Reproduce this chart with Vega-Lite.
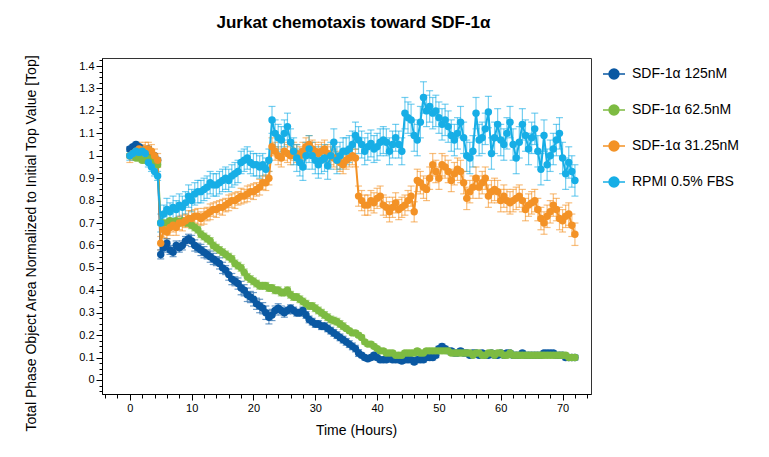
{
"$schema":"https://vega.github.io/schema/vega-lite/v6.json",
"width":489,"height":336,
"autosize":"none",
"padding":{"left":102,"top":58,"right":178,"bottom":63},
"background":"white",
"view":{"stroke":"#333333","strokeWidth":1},
"title":{"text":"Jurkat chemotaxis toward SDF-1α","font":"Liberation Sans","fontSize":17,"fontWeight":"bold","color":"black","anchor":"middle","dx":7,"offset":22},
"data":{"values":[
{"s":"125nM","t":0,"v":1.03,"e":0.01},{"s":"125nM","t":0.5,"v":1.04,"e":0.01},{"s":"125nM","t":1,"v":1.05,"e":0.01},{"s":"125nM","t":1.5,"v":1.04,"e":0.01},{"s":"125nM","t":2,"v":1.03,"e":0.01},{"s":"125nM","t":2.5,"v":1.02,"e":0.01},{"s":"125nM","t":3,"v":1.03,"e":0.01},{"s":"125nM","t":3.5,"v":1.01,"e":0.01},{"s":"125nM","t":4,"v":1.0,"e":0.01},{"s":"125nM","t":4.5,"v":0.98,"e":0.01},
{"s":"125nM","t":5,"v":0.56,"e":0.02},{"s":"125nM","t":5.5,"v":0.59,"e":0.02},{"s":"125nM","t":6,"v":0.61,"e":0.02},{"s":"125nM","t":6.5,"v":0.58,"e":0.02},{"s":"125nM","t":7,"v":0.57,"e":0.02},{"s":"125nM","t":7.5,"v":0.6,"e":0.02},{"s":"125nM","t":8,"v":0.59,"e":0.02},{"s":"125nM","t":8.5,"v":0.6,"e":0.02},{"s":"125nM","t":9,"v":0.62,"e":0.02},{"s":"125nM","t":9.5,"v":0.63,"e":0.02},
{"s":"125nM","t":10,"v":0.62,"e":0.025},{"s":"125nM","t":10.5,"v":0.6,"e":0.025},{"s":"125nM","t":11,"v":0.59,"e":0.02},{"s":"125nM","t":11.5,"v":0.58,"e":0.025},{"s":"125nM","t":12,"v":0.57,"e":0.025},{"s":"125nM","t":12.5,"v":0.56,"e":0.02},{"s":"125nM","t":13,"v":0.55,"e":0.025},{"s":"125nM","t":13.5,"v":0.54,"e":0.025},{"s":"125nM","t":14,"v":0.53,"e":0.02},{"s":"125nM","t":14.5,"v":0.52,"e":0.025},
{"s":"125nM","t":15,"v":0.5,"e":0.025},{"s":"125nM","t":15.5,"v":0.49,"e":0.02},{"s":"125nM","t":16,"v":0.47,"e":0.025},{"s":"125nM","t":16.5,"v":0.45,"e":0.025},{"s":"125nM","t":17,"v":0.44,"e":0.02},{"s":"125nM","t":17.5,"v":0.43,"e":0.025},{"s":"125nM","t":18,"v":0.41,"e":0.03},{"s":"125nM","t":18.5,"v":0.4,"e":0.025},{"s":"125nM","t":19,"v":0.38,"e":0.03},{"s":"125nM","t":19.5,"v":0.37,"e":0.025},
{"s":"125nM","t":20,"v":0.36,"e":0.03},{"s":"125nM","t":20.5,"v":0.34,"e":0.025},{"s":"125nM","t":21,"v":0.33,"e":0.03},{"s":"125nM","t":21.5,"v":0.32,"e":0.025},{"s":"125nM","t":22,"v":0.3,"e":0.03},{"s":"125nM","t":22.5,"v":0.28,"e":0.03},{"s":"125nM","t":23,"v":0.29,"e":0.025},{"s":"125nM","t":23.5,"v":0.31,"e":0.02},{"s":"125nM","t":24,"v":0.32,"e":0.02},{"s":"125nM","t":24.5,"v":0.31,"e":0.02},
{"s":"125nM","t":25,"v":0.3,"e":0.02},{"s":"125nM","t":25.5,"v":0.31,"e":0.015},{"s":"125nM","t":26,"v":0.32,"e":0.015},{"s":"125nM","t":26.5,"v":0.31,"e":0.015},{"s":"125nM","t":27,"v":0.3,"e":0.015},{"s":"125nM","t":27.5,"v":0.3,"e":0.015},{"s":"125nM","t":28,"v":0.31,"e":0.015},{"s":"125nM","t":28.5,"v":0.29,"e":0.015},{"s":"125nM","t":29,"v":0.27,"e":0.015},{"s":"125nM","t":29.5,"v":0.26,"e":0.015},
{"s":"125nM","t":30,"v":0.25,"e":0.015},{"s":"125nM","t":30.5,"v":0.25,"e":0.015},{"s":"125nM","t":31,"v":0.24,"e":0.015},{"s":"125nM","t":31.5,"v":0.24,"e":0.015},{"s":"125nM","t":32,"v":0.23,"e":0.015},{"s":"125nM","t":32.5,"v":0.22,"e":0.015},{"s":"125nM","t":33,"v":0.21,"e":0.015},{"s":"125nM","t":33.5,"v":0.2,"e":0.015},{"s":"125nM","t":34,"v":0.19,"e":0.015},{"s":"125nM","t":34.5,"v":0.18,"e":0.015},
{"s":"125nM","t":35,"v":0.17,"e":0.015},{"s":"125nM","t":35.5,"v":0.16,"e":0.015},{"s":"125nM","t":36,"v":0.15,"e":0.015},{"s":"125nM","t":36.5,"v":0.14,"e":0.015},{"s":"125nM","t":37,"v":0.12,"e":0.015},{"s":"125nM","t":37.5,"v":0.11,"e":0.01},{"s":"125nM","t":38,"v":0.1,"e":0.01},{"s":"125nM","t":38.5,"v":0.095,"e":0.01},{"s":"125nM","t":39,"v":0.1,"e":0.01},{"s":"125nM","t":39.5,"v":0.11,"e":0.01},
{"s":"125nM","t":40,"v":0.1,"e":0.01},{"s":"125nM","t":40.5,"v":0.09,"e":0.01},{"s":"125nM","t":41,"v":0.09,"e":0.01},{"s":"125nM","t":41.5,"v":0.09,"e":0.01},{"s":"125nM","t":42,"v":0.1,"e":0.01},{"s":"125nM","t":42.5,"v":0.09,"e":0.01},{"s":"125nM","t":43,"v":0.09,"e":0.01},{"s":"125nM","t":43.5,"v":0.09,"e":0.01},{"s":"125nM","t":44,"v":0.085,"e":0.01},{"s":"125nM","t":44.5,"v":0.09,"e":0.01},
{"s":"125nM","t":45,"v":0.09,"e":0.01},{"s":"125nM","t":45.5,"v":0.09,"e":0.01},{"s":"125nM","t":46,"v":0.08,"e":0.01},{"s":"125nM","t":46.5,"v":0.09,"e":0.01},{"s":"125nM","t":47,"v":0.09,"e":0.01},{"s":"125nM","t":47.5,"v":0.09,"e":0.01},{"s":"125nM","t":48,"v":0.1,"e":0.01},{"s":"125nM","t":48.5,"v":0.1,"e":0.01},{"s":"125nM","t":49,"v":0.1,"e":0.01},{"s":"125nM","t":49.5,"v":0.11,"e":0.01},
{"s":"125nM","t":50,"v":0.14,"e":0.01},{"s":"125nM","t":50.5,"v":0.15,"e":0.01},{"s":"125nM","t":51,"v":0.14,"e":0.01},{"s":"125nM","t":51.5,"v":0.13,"e":0.01},{"s":"125nM","t":52,"v":0.13,"e":0.01},{"s":"125nM","t":52.5,"v":0.12,"e":0.01},{"s":"125nM","t":53,"v":0.12,"e":0.01},{"s":"125nM","t":53.5,"v":0.13,"e":0.01},{"s":"125nM","t":54,"v":0.12,"e":0.01},{"s":"125nM","t":54.5,"v":0.12,"e":0.01},
{"s":"125nM","t":55,"v":0.11,"e":0.01},{"s":"125nM","t":55.5,"v":0.12,"e":0.01},{"s":"125nM","t":56,"v":0.12,"e":0.01},{"s":"125nM","t":56.5,"v":0.11,"e":0.01},{"s":"125nM","t":57,"v":0.12,"e":0.01},{"s":"125nM","t":57.5,"v":0.11,"e":0.01},{"s":"125nM","t":58,"v":0.11,"e":0.01},{"s":"125nM","t":58.5,"v":0.12,"e":0.01},{"s":"125nM","t":59,"v":0.11,"e":0.01},{"s":"125nM","t":59.5,"v":0.11,"e":0.01},
{"s":"125nM","t":60,"v":0.12,"e":0.01},{"s":"125nM","t":60.5,"v":0.11,"e":0.01},{"s":"125nM","t":61,"v":0.12,"e":0.01},{"s":"125nM","t":61.5,"v":0.12,"e":0.01},{"s":"125nM","t":62,"v":0.11,"e":0.01},{"s":"125nM","t":62.5,"v":0.11,"e":0.01},{"s":"125nM","t":63,"v":0.11,"e":0.01},{"s":"125nM","t":63.5,"v":0.12,"e":0.01},{"s":"125nM","t":64,"v":0.11,"e":0.01},{"s":"125nM","t":64.5,"v":0.11,"e":0.01},
{"s":"125nM","t":65,"v":0.11,"e":0.01},{"s":"125nM","t":65.5,"v":0.11,"e":0.01},{"s":"125nM","t":66,"v":0.11,"e":0.01},{"s":"125nM","t":66.5,"v":0.11,"e":0.01},{"s":"125nM","t":67,"v":0.12,"e":0.01},{"s":"125nM","t":67.5,"v":0.12,"e":0.01},{"s":"125nM","t":68,"v":0.12,"e":0.01},{"s":"125nM","t":68.5,"v":0.12,"e":0.01},{"s":"125nM","t":69,"v":0.11,"e":0.01},{"s":"125nM","t":69.5,"v":0.11,"e":0.01},
{"s":"125nM","t":70,"v":0.11,"e":0.01},{"s":"125nM","t":70.5,"v":0.1,"e":0.01},{"s":"125nM","t":71,"v":0.1,"e":0.01},{"s":"125nM","t":71.5,"v":0.1,"e":0.01},{"s":"125nM","t":72,"v":0.1,"e":0.01},

{"s":"62.5nM","t":0,"v":1.0,"e":0.01},{"s":"62.5nM","t":0.5,"v":1.0,"e":0.01},{"s":"62.5nM","t":1,"v":0.99,"e":0.01},{"s":"62.5nM","t":1.5,"v":0.99,"e":0.01},{"s":"62.5nM","t":2,"v":0.98,"e":0.01},{"s":"62.5nM","t":2.5,"v":0.98,"e":0.01},{"s":"62.5nM","t":3,"v":0.99,"e":0.01},{"s":"62.5nM","t":3.5,"v":0.98,"e":0.01},{"s":"62.5nM","t":4,"v":0.97,"e":0.01},{"s":"62.5nM","t":4.5,"v":0.96,"e":0.01},
{"s":"62.5nM","t":5,"v":0.7,"e":0.01},{"s":"62.5nM","t":5.5,"v":0.7,"e":0.01},{"s":"62.5nM","t":6,"v":0.7,"e":0.01},{"s":"62.5nM","t":6.5,"v":0.71,"e":0.01},{"s":"62.5nM","t":7,"v":0.7,"e":0.01},{"s":"62.5nM","t":7.5,"v":0.71,"e":0.01},{"s":"62.5nM","t":8,"v":0.7,"e":0.01},{"s":"62.5nM","t":8.5,"v":0.71,"e":0.01},{"s":"62.5nM","t":9,"v":0.7,"e":0.01},{"s":"62.5nM","t":9.5,"v":0.7,"e":0.01},
{"s":"62.5nM","t":10,"v":0.69,"e":0.015},{"s":"62.5nM","t":10.5,"v":0.68,"e":0.015},{"s":"62.5nM","t":11,"v":0.67,"e":0.015},{"s":"62.5nM","t":11.5,"v":0.65,"e":0.015},{"s":"62.5nM","t":12,"v":0.64,"e":0.015},{"s":"62.5nM","t":12.5,"v":0.63,"e":0.015},{"s":"62.5nM","t":13,"v":0.62,"e":0.015},{"s":"62.5nM","t":13.5,"v":0.6,"e":0.015},{"s":"62.5nM","t":14,"v":0.59,"e":0.015},{"s":"62.5nM","t":14.5,"v":0.58,"e":0.015},
{"s":"62.5nM","t":15,"v":0.57,"e":0.015},{"s":"62.5nM","t":15.5,"v":0.56,"e":0.015},{"s":"62.5nM","t":16,"v":0.55,"e":0.015},{"s":"62.5nM","t":16.5,"v":0.54,"e":0.015},{"s":"62.5nM","t":17,"v":0.52,"e":0.015},{"s":"62.5nM","t":17.5,"v":0.51,"e":0.015},{"s":"62.5nM","t":18,"v":0.5,"e":0.015},{"s":"62.5nM","t":18.5,"v":0.48,"e":0.015},{"s":"62.5nM","t":19,"v":0.46,"e":0.015},{"s":"62.5nM","t":19.5,"v":0.45,"e":0.015},
{"s":"62.5nM","t":20,"v":0.44,"e":0.015},{"s":"62.5nM","t":20.5,"v":0.43,"e":0.015},{"s":"62.5nM","t":21,"v":0.42,"e":0.015},{"s":"62.5nM","t":21.5,"v":0.42,"e":0.015},{"s":"62.5nM","t":22,"v":0.42,"e":0.015},{"s":"62.5nM","t":22.5,"v":0.41,"e":0.015},{"s":"62.5nM","t":23,"v":0.41,"e":0.015},{"s":"62.5nM","t":23.5,"v":0.4,"e":0.015},{"s":"62.5nM","t":24,"v":0.4,"e":0.015},{"s":"62.5nM","t":24.5,"v":0.39,"e":0.015},
{"s":"62.5nM","t":25,"v":0.39,"e":0.015},{"s":"62.5nM","t":25.5,"v":0.4,"e":0.015},{"s":"62.5nM","t":26,"v":0.38,"e":0.015},{"s":"62.5nM","t":26.5,"v":0.37,"e":0.015},{"s":"62.5nM","t":27,"v":0.37,"e":0.015},{"s":"62.5nM","t":27.5,"v":0.36,"e":0.015},{"s":"62.5nM","t":28,"v":0.35,"e":0.015},{"s":"62.5nM","t":28.5,"v":0.34,"e":0.015},{"s":"62.5nM","t":29,"v":0.33,"e":0.015},{"s":"62.5nM","t":29.5,"v":0.33,"e":0.015},
{"s":"62.5nM","t":30,"v":0.32,"e":0.015},{"s":"62.5nM","t":30.5,"v":0.31,"e":0.015},{"s":"62.5nM","t":31,"v":0.3,"e":0.015},{"s":"62.5nM","t":31.5,"v":0.29,"e":0.015},{"s":"62.5nM","t":32,"v":0.28,"e":0.015},{"s":"62.5nM","t":32.5,"v":0.27,"e":0.015},{"s":"62.5nM","t":33,"v":0.265,"e":0.015},{"s":"62.5nM","t":33.5,"v":0.26,"e":0.015},{"s":"62.5nM","t":34,"v":0.25,"e":0.015},{"s":"62.5nM","t":34.5,"v":0.24,"e":0.015},
{"s":"62.5nM","t":35,"v":0.23,"e":0.01},{"s":"62.5nM","t":35.5,"v":0.22,"e":0.01},{"s":"62.5nM","t":36,"v":0.21,"e":0.01},{"s":"62.5nM","t":36.5,"v":0.21,"e":0.01},{"s":"62.5nM","t":37,"v":0.2,"e":0.01},{"s":"62.5nM","t":37.5,"v":0.19,"e":0.01},{"s":"62.5nM","t":38,"v":0.17,"e":0.01},{"s":"62.5nM","t":38.5,"v":0.16,"e":0.01},{"s":"62.5nM","t":39,"v":0.16,"e":0.01},{"s":"62.5nM","t":39.5,"v":0.15,"e":0.01},
{"s":"62.5nM","t":40,"v":0.14,"e":0.01},{"s":"62.5nM","t":40.5,"v":0.13,"e":0.01},{"s":"62.5nM","t":41,"v":0.13,"e":0.01},{"s":"62.5nM","t":41.5,"v":0.12,"e":0.01},{"s":"62.5nM","t":42,"v":0.12,"e":0.01},{"s":"62.5nM","t":42.5,"v":0.12,"e":0.01},{"s":"62.5nM","t":43,"v":0.11,"e":0.01},{"s":"62.5nM","t":43.5,"v":0.11,"e":0.01},{"s":"62.5nM","t":44,"v":0.11,"e":0.01},{"s":"62.5nM","t":44.5,"v":0.12,"e":0.01},
{"s":"62.5nM","t":45,"v":0.12,"e":0.01},{"s":"62.5nM","t":45.5,"v":0.12,"e":0.01},{"s":"62.5nM","t":46,"v":0.12,"e":0.01},{"s":"62.5nM","t":46.5,"v":0.13,"e":0.01},{"s":"62.5nM","t":47,"v":0.12,"e":0.01},{"s":"62.5nM","t":47.5,"v":0.12,"e":0.01},{"s":"62.5nM","t":48,"v":0.13,"e":0.01},{"s":"62.5nM","t":48.5,"v":0.13,"e":0.01},{"s":"62.5nM","t":49,"v":0.13,"e":0.01},{"s":"62.5nM","t":49.5,"v":0.13,"e":0.01},
{"s":"62.5nM","t":50,"v":0.13,"e":0.01},{"s":"62.5nM","t":50.5,"v":0.13,"e":0.01},{"s":"62.5nM","t":51,"v":0.13,"e":0.01},{"s":"62.5nM","t":51.5,"v":0.13,"e":0.01},{"s":"62.5nM","t":52,"v":0.12,"e":0.01},{"s":"62.5nM","t":52.5,"v":0.12,"e":0.01},{"s":"62.5nM","t":53,"v":0.12,"e":0.01},{"s":"62.5nM","t":53.5,"v":0.12,"e":0.01},{"s":"62.5nM","t":54,"v":0.12,"e":0.01},{"s":"62.5nM","t":54.5,"v":0.12,"e":0.01},
{"s":"62.5nM","t":55,"v":0.12,"e":0.01},{"s":"62.5nM","t":55.5,"v":0.11,"e":0.01},{"s":"62.5nM","t":56,"v":0.12,"e":0.01},{"s":"62.5nM","t":56.5,"v":0.12,"e":0.01},{"s":"62.5nM","t":57,"v":0.11,"e":0.01},{"s":"62.5nM","t":57.5,"v":0.11,"e":0.01},{"s":"62.5nM","t":58,"v":0.12,"e":0.01},{"s":"62.5nM","t":58.5,"v":0.12,"e":0.01},{"s":"62.5nM","t":59,"v":0.11,"e":0.01},{"s":"62.5nM","t":59.5,"v":0.12,"e":0.01},
{"s":"62.5nM","t":60,"v":0.12,"e":0.01},{"s":"62.5nM","t":60.5,"v":0.11,"e":0.01},{"s":"62.5nM","t":61,"v":0.11,"e":0.01},{"s":"62.5nM","t":61.5,"v":0.12,"e":0.01},{"s":"62.5nM","t":62,"v":0.11,"e":0.01},{"s":"62.5nM","t":62.5,"v":0.11,"e":0.01},{"s":"62.5nM","t":63,"v":0.11,"e":0.01},{"s":"62.5nM","t":63.5,"v":0.11,"e":0.01},{"s":"62.5nM","t":64,"v":0.11,"e":0.01},{"s":"62.5nM","t":64.5,"v":0.11,"e":0.01},
{"s":"62.5nM","t":65,"v":0.11,"e":0.01},{"s":"62.5nM","t":65.5,"v":0.11,"e":0.01},{"s":"62.5nM","t":66,"v":0.11,"e":0.01},{"s":"62.5nM","t":66.5,"v":0.11,"e":0.01},{"s":"62.5nM","t":67,"v":0.11,"e":0.01},{"s":"62.5nM","t":67.5,"v":0.11,"e":0.01},{"s":"62.5nM","t":68,"v":0.11,"e":0.01},{"s":"62.5nM","t":68.5,"v":0.11,"e":0.01},{"s":"62.5nM","t":69,"v":0.11,"e":0.01},{"s":"62.5nM","t":69.5,"v":0.11,"e":0.01},
{"s":"62.5nM","t":70,"v":0.11,"e":0.01},{"s":"62.5nM","t":70.5,"v":0.11,"e":0.01},{"s":"62.5nM","t":71,"v":0.1,"e":0.01},{"s":"62.5nM","t":71.5,"v":0.1,"e":0.01},{"s":"62.5nM","t":72,"v":0.1,"e":0.01},

{"s":"31.25nM","t":0,"v":1.0,"e":0.03},{"s":"31.25nM","t":0.5,"v":1.01,"e":0.03},{"s":"31.25nM","t":1,"v":1.02,"e":0.03},{"s":"31.25nM","t":1.5,"v":1.03,"e":0.03},{"s":"31.25nM","t":2,"v":1.02,"e":0.03},{"s":"31.25nM","t":2.5,"v":1.03,"e":0.03},{"s":"31.25nM","t":3,"v":1.03,"e":0.03},{"s":"31.25nM","t":3.5,"v":1.02,"e":0.03},{"s":"31.25nM","t":4,"v":1.0,"e":0.03},{"s":"31.25nM","t":4.5,"v":0.98,"e":0.03},
{"s":"31.25nM","t":5,"v":0.61,"e":0.03},{"s":"31.25nM","t":5.5,"v":0.67,"e":0.035},{"s":"31.25nM","t":6,"v":0.66,"e":0.03},{"s":"31.25nM","t":6.5,"v":0.68,"e":0.035},{"s":"31.25nM","t":7,"v":0.69,"e":0.03},{"s":"31.25nM","t":7.5,"v":0.68,"e":0.035},{"s":"31.25nM","t":8,"v":0.7,"e":0.03},{"s":"31.25nM","t":8.5,"v":0.7,"e":0.035},{"s":"31.25nM","t":9,"v":0.71,"e":0.03},{"s":"31.25nM","t":9.5,"v":0.72,"e":0.035},
{"s":"31.25nM","t":10,"v":0.72,"e":0.035},{"s":"31.25nM","t":10.5,"v":0.73,"e":0.03},{"s":"31.25nM","t":11,"v":0.73,"e":0.035},{"s":"31.25nM","t":11.5,"v":0.72,"e":0.03},{"s":"31.25nM","t":12,"v":0.73,"e":0.035},{"s":"31.25nM","t":12.5,"v":0.74,"e":0.03},{"s":"31.25nM","t":13,"v":0.75,"e":0.035},{"s":"31.25nM","t":13.5,"v":0.76,"e":0.03},{"s":"31.25nM","t":14,"v":0.76,"e":0.035},{"s":"31.25nM","t":14.5,"v":0.77,"e":0.03},
{"s":"31.25nM","t":15,"v":0.77,"e":0.035},{"s":"31.25nM","t":15.5,"v":0.78,"e":0.03},{"s":"31.25nM","t":16,"v":0.79,"e":0.035},{"s":"31.25nM","t":16.5,"v":0.8,"e":0.03},{"s":"31.25nM","t":17,"v":0.8,"e":0.035},{"s":"31.25nM","t":17.5,"v":0.81,"e":0.03},{"s":"31.25nM","t":18,"v":0.82,"e":0.035},{"s":"31.25nM","t":18.5,"v":0.82,"e":0.03},{"s":"31.25nM","t":19,"v":0.83,"e":0.035},{"s":"31.25nM","t":19.5,"v":0.84,"e":0.03},
{"s":"31.25nM","t":20,"v":0.84,"e":0.035},{"s":"31.25nM","t":20.5,"v":0.85,"e":0.03},{"s":"31.25nM","t":21,"v":0.86,"e":0.035},{"s":"31.25nM","t":21.5,"v":0.88,"e":0.03},{"s":"31.25nM","t":22,"v":0.88,"e":0.035},{"s":"31.25nM","t":22.5,"v":0.9,"e":0.03},{"s":"31.25nM","t":23,"v":1.04,"e":0.04},{"s":"31.25nM","t":23.5,"v":1.02,"e":0.04},{"s":"31.25nM","t":24,"v":1.0,"e":0.04},{"s":"31.25nM","t":24.5,"v":0.99,"e":0.04},
{"s":"31.25nM","t":25,"v":1.02,"e":0.04},{"s":"31.25nM","t":25.5,"v":1.01,"e":0.04},{"s":"31.25nM","t":26,"v":1.0,"e":0.04},{"s":"31.25nM","t":26.5,"v":1.02,"e":0.04},{"s":"31.25nM","t":27,"v":1.01,"e":0.04},{"s":"31.25nM","t":27.5,"v":1.0,"e":0.04},{"s":"31.25nM","t":28,"v":1.02,"e":0.04},{"s":"31.25nM","t":28.5,"v":1.04,"e":0.04},{"s":"31.25nM","t":29,"v":1.05,"e":0.04},{"s":"31.25nM","t":29.5,"v":1.03,"e":0.04},
{"s":"31.25nM","t":30,"v":1.02,"e":0.04},{"s":"31.25nM","t":30.5,"v":1.01,"e":0.04},{"s":"31.25nM","t":31,"v":1.02,"e":0.04},{"s":"31.25nM","t":31.5,"v":1.03,"e":0.04},{"s":"31.25nM","t":32,"v":1.01,"e":0.04},{"s":"31.25nM","t":32.5,"v":1.0,"e":0.04},{"s":"31.25nM","t":33,"v":0.99,"e":0.04},{"s":"31.25nM","t":33.5,"v":0.98,"e":0.04},{"s":"31.25nM","t":34,"v":0.97,"e":0.04},{"s":"31.25nM","t":34.5,"v":0.96,"e":0.04},
{"s":"31.25nM","t":35,"v":0.98,"e":0.04},{"s":"31.25nM","t":35.5,"v":0.99,"e":0.04},{"s":"31.25nM","t":36,"v":1.0,"e":0.04},{"s":"31.25nM","t":36.5,"v":0.99,"e":0.04},{"s":"31.25nM","t":37,"v":0.82,"e":0.045},{"s":"31.25nM","t":37.5,"v":0.8,"e":0.045},{"s":"31.25nM","t":38,"v":0.78,"e":0.045},{"s":"31.25nM","t":38.5,"v":0.78,"e":0.045},{"s":"31.25nM","t":39,"v":0.8,"e":0.045},{"s":"31.25nM","t":39.5,"v":0.79,"e":0.045},
{"s":"31.25nM","t":40,"v":0.81,"e":0.045},{"s":"31.25nM","t":40.5,"v":0.82,"e":0.045},{"s":"31.25nM","t":41,"v":0.78,"e":0.045},{"s":"31.25nM","t":41.5,"v":0.77,"e":0.045},{"s":"31.25nM","t":42,"v":0.75,"e":0.045},{"s":"31.25nM","t":42.5,"v":0.77,"e":0.045},{"s":"31.25nM","t":43,"v":0.79,"e":0.045},{"s":"31.25nM","t":43.5,"v":0.76,"e":0.045},{"s":"31.25nM","t":44,"v":0.77,"e":0.045},{"s":"31.25nM","t":44.5,"v":0.78,"e":0.045},
{"s":"31.25nM","t":45,"v":0.8,"e":0.045},{"s":"31.25nM","t":45.5,"v":0.82,"e":0.045},{"s":"31.25nM","t":46,"v":0.75,"e":0.045},{"s":"31.25nM","t":46.5,"v":0.89,"e":0.05},{"s":"31.25nM","t":47,"v":0.88,"e":0.05},{"s":"31.25nM","t":47.5,"v":0.86,"e":0.05},{"s":"31.25nM","t":48,"v":0.85,"e":0.05},{"s":"31.25nM","t":48.5,"v":0.9,"e":0.05},{"s":"31.25nM","t":49,"v":0.96,"e":0.05},{"s":"31.25nM","t":49.5,"v":0.93,"e":0.05},
{"s":"31.25nM","t":50,"v":0.9,"e":0.05},{"s":"31.25nM","t":50.5,"v":0.96,"e":0.05},{"s":"31.25nM","t":51,"v":0.95,"e":0.05},{"s":"31.25nM","t":51.5,"v":0.93,"e":0.05},{"s":"31.25nM","t":52,"v":0.89,"e":0.05},{"s":"31.25nM","t":52.5,"v":0.92,"e":0.05},{"s":"31.25nM","t":53,"v":0.94,"e":0.05},{"s":"31.25nM","t":53.5,"v":0.93,"e":0.05},{"s":"31.25nM","t":54,"v":0.88,"e":0.05},{"s":"31.25nM","t":54.5,"v":0.81,"e":0.05},
{"s":"31.25nM","t":55,"v":0.84,"e":0.05},{"s":"31.25nM","t":55.5,"v":0.86,"e":0.05},{"s":"31.25nM","t":56,"v":0.9,"e":0.05},{"s":"31.25nM","t":56.5,"v":0.86,"e":0.05},{"s":"31.25nM","t":57,"v":0.88,"e":0.05},{"s":"31.25nM","t":57.5,"v":0.9,"e":0.05},{"s":"31.25nM","t":58,"v":0.82,"e":0.05},{"s":"31.25nM","t":58.5,"v":0.84,"e":0.05},{"s":"31.25nM","t":59,"v":0.85,"e":0.05},{"s":"31.25nM","t":59.5,"v":0.84,"e":0.05},
{"s":"31.25nM","t":60,"v":0.8,"e":0.05},{"s":"31.25nM","t":60.5,"v":0.82,"e":0.05},{"s":"31.25nM","t":61,"v":0.8,"e":0.05},{"s":"31.25nM","t":61.5,"v":0.79,"e":0.05},{"s":"31.25nM","t":62,"v":0.8,"e":0.05},{"s":"31.25nM","t":62.5,"v":0.81,"e":0.05},{"s":"31.25nM","t":63,"v":0.82,"e":0.05},{"s":"31.25nM","t":63.5,"v":0.8,"e":0.05},{"s":"31.25nM","t":64,"v":0.76,"e":0.05},{"s":"31.25nM","t":64.5,"v":0.78,"e":0.05},
{"s":"31.25nM","t":65,"v":0.79,"e":0.05},{"s":"31.25nM","t":65.5,"v":0.8,"e":0.05},{"s":"31.25nM","t":66,"v":0.76,"e":0.05},{"s":"31.25nM","t":66.5,"v":0.72,"e":0.05},{"s":"31.25nM","t":67,"v":0.7,"e":0.05},{"s":"31.25nM","t":67.5,"v":0.73,"e":0.05},{"s":"31.25nM","t":68,"v":0.75,"e":0.05},{"s":"31.25nM","t":68.5,"v":0.78,"e":0.05},{"s":"31.25nM","t":69,"v":0.76,"e":0.05},{"s":"31.25nM","t":69.5,"v":0.72,"e":0.05},
{"s":"31.25nM","t":70,"v":0.71,"e":0.05},{"s":"31.25nM","t":70.5,"v":0.73,"e":0.05},{"s":"31.25nM","t":71,"v":0.74,"e":0.05},{"s":"31.25nM","t":71.5,"v":0.69,"e":0.05},{"s":"31.25nM","t":72,"v":0.65,"e":0.05},

{"s":"RPMI","t":0,"v":1.0,"e":0.02},{"s":"RPMI","t":0.5,"v":1.01,"e":0.02},{"s":"RPMI","t":1,"v":1.02,"e":0.02},{"s":"RPMI","t":1.5,"v":1.015,"e":0.02},{"s":"RPMI","t":2,"v":1.02,"e":0.02},{"s":"RPMI","t":2.5,"v":1.01,"e":0.02},{"s":"RPMI","t":3,"v":0.97,"e":0.02},{"s":"RPMI","t":3.5,"v":0.95,"e":0.02},{"s":"RPMI","t":4,"v":0.93,"e":0.02},{"s":"RPMI","t":4.5,"v":0.91,"e":0.02},
{"s":"RPMI","t":5,"v":0.7,"e":0.04},{"s":"RPMI","t":5.5,"v":0.74,"e":0.04},{"s":"RPMI","t":6,"v":0.76,"e":0.05},{"s":"RPMI","t":6.5,"v":0.75,"e":0.04},{"s":"RPMI","t":7,"v":0.77,"e":0.05},{"s":"RPMI","t":7.5,"v":0.76,"e":0.04},{"s":"RPMI","t":8,"v":0.78,"e":0.05},{"s":"RPMI","t":8.5,"v":0.77,"e":0.05},{"s":"RPMI","t":9,"v":0.79,"e":0.05},{"s":"RPMI","t":9.5,"v":0.82,"e":0.05},
{"s":"RPMI","t":10,"v":0.8,"e":0.05},{"s":"RPMI","t":10.5,"v":0.83,"e":0.05},{"s":"RPMI","t":11,"v":0.84,"e":0.05},{"s":"RPMI","t":11.5,"v":0.84,"e":0.05},{"s":"RPMI","t":12,"v":0.85,"e":0.05},{"s":"RPMI","t":12.5,"v":0.86,"e":0.05},{"s":"RPMI","t":13,"v":0.88,"e":0.05},{"s":"RPMI","t":13.5,"v":0.87,"e":0.05},{"s":"RPMI","t":14,"v":0.87,"e":0.05},{"s":"RPMI","t":14.5,"v":0.88,"e":0.05},
{"s":"RPMI","t":15,"v":0.89,"e":0.05},{"s":"RPMI","t":15.5,"v":0.9,"e":0.05},{"s":"RPMI","t":16,"v":0.89,"e":0.05},{"s":"RPMI","t":16.5,"v":0.91,"e":0.05},{"s":"RPMI","t":17,"v":0.92,"e":0.05},{"s":"RPMI","t":17.5,"v":0.93,"e":0.05},{"s":"RPMI","t":18,"v":0.97,"e":0.05},{"s":"RPMI","t":18.5,"v":0.98,"e":0.05},{"s":"RPMI","t":19,"v":0.99,"e":0.05},{"s":"RPMI","t":19.5,"v":0.97,"e":0.05},
{"s":"RPMI","t":20,"v":0.96,"e":0.05},{"s":"RPMI","t":20.5,"v":0.96,"e":0.05},{"s":"RPMI","t":21,"v":0.95,"e":0.05},{"s":"RPMI","t":21.5,"v":0.96,"e":0.05},{"s":"RPMI","t":22,"v":0.94,"e":0.05},{"s":"RPMI","t":22.5,"v":0.98,"e":0.05},{"s":"RPMI","t":23,"v":1.16,"e":0.06},{"s":"RPMI","t":23.5,"v":1.1,"e":0.06},{"s":"RPMI","t":24,"v":1.08,"e":0.06},{"s":"RPMI","t":24.5,"v":1.07,"e":0.06},
{"s":"RPMI","t":25,"v":1.1,"e":0.06},{"s":"RPMI","t":25.5,"v":1.13,"e":0.06},{"s":"RPMI","t":26,"v":1.06,"e":0.06},{"s":"RPMI","t":26.5,"v":1.02,"e":0.06},{"s":"RPMI","t":27,"v":0.99,"e":0.06},{"s":"RPMI","t":27.5,"v":0.97,"e":0.06},{"s":"RPMI","t":28,"v":0.95,"e":0.06},{"s":"RPMI","t":28.5,"v":1.0,"e":0.06},{"s":"RPMI","t":29,"v":1.03,"e":0.06},{"s":"RPMI","t":29.5,"v":1.0,"e":0.06},
{"s":"RPMI","t":30,"v":0.98,"e":0.06},{"s":"RPMI","t":30.5,"v":0.96,"e":0.06},{"s":"RPMI","t":31,"v":0.98,"e":0.06},{"s":"RPMI","t":31.5,"v":0.99,"e":0.06},{"s":"RPMI","t":32,"v":0.955,"e":0.06},{"s":"RPMI","t":32.5,"v":1.0,"e":0.06},{"s":"RPMI","t":33,"v":1.06,"e":0.06},{"s":"RPMI","t":33.5,"v":0.98,"e":0.06},{"s":"RPMI","t":34,"v":1.0,"e":0.06},{"s":"RPMI","t":34.5,"v":1.02,"e":0.06},
{"s":"RPMI","t":35,"v":1.02,"e":0.06},{"s":"RPMI","t":35.5,"v":1.03,"e":0.06},{"s":"RPMI","t":36,"v":1.05,"e":0.06},{"s":"RPMI","t":36.5,"v":1.09,"e":0.06},{"s":"RPMI","t":37,"v":1.07,"e":0.06},{"s":"RPMI","t":37.5,"v":1.05,"e":0.06},{"s":"RPMI","t":38,"v":1.02,"e":0.06},{"s":"RPMI","t":38.5,"v":1.04,"e":0.06},{"s":"RPMI","t":39,"v":1.055,"e":0.06},{"s":"RPMI","t":39.5,"v":1.03,"e":0.06},
{"s":"RPMI","t":40,"v":1.04,"e":0.06},{"s":"RPMI","t":40.5,"v":1.06,"e":0.06},{"s":"RPMI","t":41,"v":1.07,"e":0.06},{"s":"RPMI","t":41.5,"v":1.06,"e":0.06},{"s":"RPMI","t":42,"v":1.02,"e":0.06},{"s":"RPMI","t":42.5,"v":1.05,"e":0.06},{"s":"RPMI","t":43,"v":1.08,"e":0.06},{"s":"RPMI","t":43.5,"v":1.05,"e":0.06},{"s":"RPMI","t":44,"v":1.02,"e":0.06},{"s":"RPMI","t":44.5,"v":1.19,"e":0.07},
{"s":"RPMI","t":45,"v":1.17,"e":0.07},{"s":"RPMI","t":45.5,"v":1.16,"e":0.07},{"s":"RPMI","t":46,"v":1.09,"e":0.07},{"s":"RPMI","t":46.5,"v":1.07,"e":0.07},{"s":"RPMI","t":47,"v":1.15,"e":0.07},{"s":"RPMI","t":47.5,"v":1.26,"e":0.07},{"s":"RPMI","t":48,"v":1.2,"e":0.07},{"s":"RPMI","t":48.5,"v":1.22,"e":0.07},{"s":"RPMI","t":49,"v":1.19,"e":0.07},{"s":"RPMI","t":49.5,"v":1.2,"e":0.07},
{"s":"RPMI","t":50,"v":1.17,"e":0.07},{"s":"RPMI","t":50.5,"v":1.14,"e":0.07},{"s":"RPMI","t":51,"v":1.16,"e":0.07},{"s":"RPMI","t":51.5,"v":1.13,"e":0.07},{"s":"RPMI","t":52,"v":1.09,"e":0.07},{"s":"RPMI","t":52.5,"v":1.07,"e":0.07},{"s":"RPMI","t":53,"v":1.1,"e":0.07},{"s":"RPMI","t":53.5,"v":1.15,"e":0.07},{"s":"RPMI","t":54,"v":1.08,"e":0.07},{"s":"RPMI","t":54.5,"v":1.0,"e":0.07},
{"s":"RPMI","t":55,"v":0.99,"e":0.07},{"s":"RPMI","t":55.5,"v":1.02,"e":0.07},{"s":"RPMI","t":56,"v":1.19,"e":0.07},{"s":"RPMI","t":56.5,"v":1.07,"e":0.07},{"s":"RPMI","t":57,"v":1.08,"e":0.07},{"s":"RPMI","t":57.5,"v":1.12,"e":0.07},{"s":"RPMI","t":58,"v":1.195,"e":0.07},{"s":"RPMI","t":58.5,"v":1.01,"e":0.07},{"s":"RPMI","t":59,"v":1.08,"e":0.07},{"s":"RPMI","t":59.5,"v":1.14,"e":0.07},
{"s":"RPMI","t":60,"v":1.07,"e":0.07},{"s":"RPMI","t":60.5,"v":1.05,"e":0.07},{"s":"RPMI","t":61,"v":1.1,"e":0.07},{"s":"RPMI","t":61.5,"v":1.15,"e":0.07},{"s":"RPMI","t":62,"v":1.05,"e":0.07},{"s":"RPMI","t":62.5,"v":0.99,"e":0.07},{"s":"RPMI","t":63,"v":1.06,"e":0.07},{"s":"RPMI","t":63.5,"v":1.14,"e":0.07},{"s":"RPMI","t":64,"v":1.09,"e":0.07},{"s":"RPMI","t":64.5,"v":1.03,"e":0.07},
{"s":"RPMI","t":65,"v":1.08,"e":0.07},{"s":"RPMI","t":65.5,"v":1.12,"e":0.07},{"s":"RPMI","t":66,"v":1.02,"e":0.07},{"s":"RPMI","t":66.5,"v":0.94,"e":0.07},{"s":"RPMI","t":67,"v":1.09,"e":0.07},{"s":"RPMI","t":67.5,"v":0.96,"e":0.07},{"s":"RPMI","t":68,"v":1.0,"e":0.07},{"s":"RPMI","t":68.5,"v":1.03,"e":0.07},{"s":"RPMI","t":69,"v":1.07,"e":0.07},{"s":"RPMI","t":69.5,"v":1.1,"e":0.07},
{"s":"RPMI","t":70,"v":0.99,"e":0.07},{"s":"RPMI","t":70.5,"v":0.92,"e":0.07},{"s":"RPMI","t":71,"v":0.97,"e":0.07},{"s":"RPMI","t":71.5,"v":0.93,"e":0.07},{"s":"RPMI","t":72,"v":0.89,"e":0.07}
]},
"layer":[
{"mark":{"type":"errorbar","ticks":{"size":7},"thickness":1.2,"opacity":0.6},
 "encoding":{
  "x":{"field":"t","type":"quantitative","scale":{"domain":[-4.5,74.6],"nice":false,"zero":false},"axis":null},
  "y":{"field":"v","type":"quantitative","scale":{"domain":[-0.0625,1.436],"nice":false,"zero":false},"axis":null},
  "yError":{"field":"e"},
  "color":{"field":"s","type":"nominal","scale":{"domain":["125nM","62.5nM","31.25nM","RPMI"],"range":["#0a58a2","#7dbb42","#f39226","#17aee6"]}}
 }},
{"mark":{"type":"line","strokeWidth":2},
 "encoding":{
  "x":{"field":"t","type":"quantitative","axis":{"orient":"bottom","values":[-4,-2,0,2,4,6,8,10,12,14,16,18,20,22,24,26,28,30,32,34,36,38,40,42,44,46,48,50,52,54,56,58,60,62,64,66,68,70,72,74],"labels":false,"domain":false,"grid":false,"title":null,"tickSize":4,"tickColor":"black","tickWidth":1}},
  "y":{"field":"v","type":"quantitative","axis":{"orient":"left","values":[-0.05,-0.025,0,0.025,0.05,0.075,0.1,0.125,0.15,0.175,0.2,0.225,0.25,0.275,0.3,0.325,0.35,0.375,0.4,0.425,0.45,0.475,0.5,0.525,0.55,0.575,0.6,0.625,0.65,0.675,0.7,0.725,0.75,0.775,0.8,0.825,0.85,0.875,0.9,0.925,0.95,0.975,1,1.025,1.05,1.075,1.1,1.125,1.15,1.175,1.2,1.225,1.25,1.275,1.3,1.325,1.35,1.375,1.4,1.425],"labels":false,"domain":false,"grid":false,"title":null,"tickSize":3,"tickColor":"black","tickWidth":1}},
  "color":{"field":"s","type":"nominal"}
 }},
{"mark":{"type":"point","filled":true,"size":55,"opacity":1},
 "encoding":{
  "x":{"field":"t","type":"quantitative","axis":{"orient":"bottom","values":[0,10,20,30,40,50,60,70],"grid":false,"tickSize":6,"tickColor":"black","tickWidth":1,"domainColor":"black","domainWidth":1,"labelFont":"Liberation Sans","labelFontSize":11,"labelColor":"black","labelPadding":2,"title":"Time (Hours)","titleFont":"Liberation Sans","titleFontSize":14,"titleFontWeight":"normal","titleColor":"black","titleX":254,"titleY":40,"titleBaseline":"alphabetic"}},
  "y":{"field":"v","type":"quantitative","axis":{"orient":"left","values":[0,0.1,0.2,0.3,0.4,0.5,0.6,0.7,0.8,0.9,1,1.1,1.2,1.3,1.4],"format":"~g","grid":false,"tickSize":6,"tickColor":"black","tickWidth":1,"domainColor":"black","domainWidth":1,"labelFont":"Liberation Sans","labelFontSize":11,"labelColor":"black","labelPadding":2,"title":"Total Phase Object Area Normalized to Initial Top Value [Top]","titleFont":"Liberation Sans","titleFontSize":14,"titleFontWeight":"normal","titleColor":"black","titleX":-67,"titleY":185,"titleBaseline":"alphabetic"}},
  "color":{"field":"s","type":"nominal","legend":{"orient":"none","legendX":500,"legendY":4,"title":null,"padding":0,"symbolType":"M -1 0 L 1 0 M 0.45 0 A 0.45 0.45 0 1 1 -0.45 0 A 0.45 0.45 0 1 1 0.45 0 Z","symbolSize":484,"symbolStrokeWidth":1.5,"symbolOpacity":1,"labelFont":"Liberation Sans","labelFontSize":14,"labelColor":"black","labelOffset":6,"rowPadding":16,"labelLimit":200,"labelExpr":"datum.value == 'RPMI' ? 'RPMI 0.5% FBS' : 'SDF-1α ' + datum.value","encode":{"symbols":{"update":{"stroke":{"scale":"color","field":"value"},"fill":{"scale":"color","field":"value"},"strokeWidth":{"value":1.5},"opacity":{"value":1},"fillOpacity":{"value":1},"strokeOpacity":{"value":1}}}}}}
 }}
],
"resolve":{"axis":{"x":"independent","y":"independent"}}
}
